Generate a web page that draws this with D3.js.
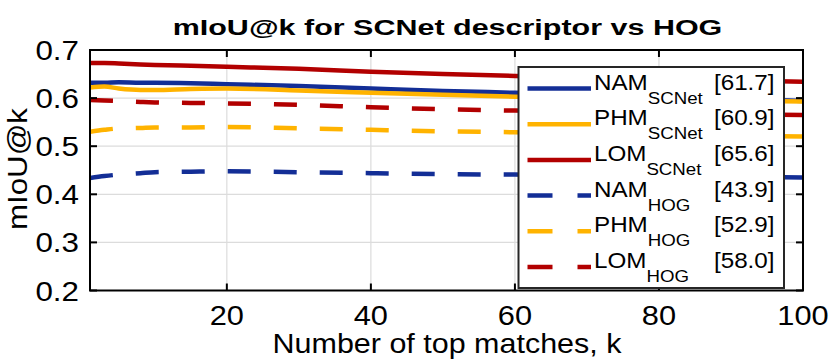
<!DOCTYPE html>
<html>
<head>
<meta charset="utf-8">
<script src="https://cdn.jsdelivr.net/npm/d3@7"></script>
<style>
  body { margin: 0; background: #fff; }
  text { font-family: "Liberation Sans", Arial, Helvetica, sans-serif; fill: #000; }
</style>
</head>
<body>
<svg id="chart"></svg>
<script>
// mIoU@k curves, SCNet descriptor vs HOG
const width = 830;
const height = 360;

const kValues = [1, 3, 5, 8, 10, 15, 20, 30, 40, 50, 60, 70, 80, 90, 100];
const namScnet = [0.632, 0.632, 0.633, 0.632, 0.632, 0.631, 0.629, 0.625, 0.620, 0.615, 0.611, 0.607, 0.603, 0.598, 0.594];
const phmScnet = [0.622, 0.624, 0.620, 0.617, 0.617, 0.619, 0.620, 0.616, 0.611, 0.607, 0.603, 0.600, 0.598, 0.595, 0.593];
const lomScnet = [0.673, 0.673, 0.672, 0.670, 0.669, 0.667, 0.665, 0.661, 0.655, 0.650, 0.646, 0.643, 0.640, 0.637, 0.634];
const namHog = [0.434, 0.438, 0.441, 0.444, 0.446, 0.447, 0.448, 0.446, 0.444, 0.442, 0.441, 0.440, 0.438, 0.436, 0.435];
const phmHog = [0.530, 0.534, 0.537, 0.538, 0.539, 0.539, 0.540, 0.537, 0.534, 0.531, 0.529, 0.527, 0.525, 0.522, 0.520];
const lomHog = [0.596, 0.595, 0.594, 0.592, 0.591, 0.590, 0.589, 0.586, 0.581, 0.577, 0.574, 0.571, 0.569, 0.567, 0.565];

const seriesNames = ["NAM", "PHM", "LOM", "NAM", "PHM", "LOM"];
const seriesSubs = ["SCNet", "SCNet", "SCNet", "HOG", "HOG", "HOG"];
const seriesScores = ["[61.7]", "[60.9]", "[65.6]", "[43.9]", "[52.9]", "[58.0]"];
const xTicks = [20, 40, 60, 80, 100];
const yTicks = [0.2, 0.3, 0.4, 0.5, 0.6, 0.7];

const blue = "#132e96", orange = "#ffb300", red = "#b20000";
const series = [
    { values: namScnet, color: blue, dashed: false },
    { values: phmScnet, color: orange, dashed: false },
    { values: lomScnet, color: red, dashed: false },
    { values: namHog, color: blue, dashed: true },
    { values: phmHog, color: orange, dashed: true },
    { values: lomHog, color: red, dashed: true }
];

const margin = { left: 90, right: 27, top: 50, bottom: 69.5 };
const plotW = width - margin.left - margin.right;
const plotH = height - margin.top - margin.bottom;

const svg = d3.select("#chart")
    .attr("width", width)
    .attr("height", height);

const x = d3.scaleLinear().domain([1, 100]).range([margin.left, margin.left + plotW]);
const y = d3.scaleLinear().domain([0.2, 0.7]).range([margin.top + plotH, margin.top]);

// text drawn slightly wider than normal, like the reference
function addText(parent, px, py, str, size, opts = {}) {
    const g = parent.append("g");
    const t = g.append("text")
        .attr("font-size", size)
        .attr("font-weight", opts.bold ? "bold" : "normal")
        .attr("text-anchor", opts.anchor || "start")
        .text(str);
    let sx = opts.sx || 1.1;
    if (opts.fitWidth) sx = opts.fitWidth / t.node().getComputedTextLength();
    const rot = opts.rotate ? ` rotate(${opts.rotate})` : "";
    g.attr("transform", `translate(${px},${py})${rot} scale(${sx},1)`);
    return t;
}

// grid
const grid = svg.append("g");
grid.selectAll(".gx").data(xTicks.filter(d => d < 100)).enter().append("line")
    .attr("x1", d => x(d)).attr("x2", d => x(d))
    .attr("y1", margin.top).attr("y2", margin.top + plotH)
    .attr("stroke", "#dcdcdc").attr("stroke-width", 1.2);
grid.selectAll(".gy").data(yTicks.filter(d => d > 0.2 && d < 0.7)).enter().append("line")
    .attr("x1", margin.left).attr("x2", margin.left + plotW)
    .attr("y1", d => y(d)).attr("y2", d => y(d))
    .attr("stroke", "#dcdcdc").attr("stroke-width", 1.2);

// lines
svg.append("clipPath").attr("id", "clip").append("rect")
    .attr("x", margin.left).attr("y", margin.top).attr("width", plotW).attr("height", plotH);

const line = d3.line()
    .x((d, i) => x(kValues[i]))
    .y(d => y(d))
    .curve(d3.curveMonotoneX);

svg.append("g").attr("clip-path", "url(#clip)")
    .selectAll("path").data(series).enter().append("path")
    .attr("d", d => line(d.values))
    .attr("fill", "none")
    .attr("stroke", d => d.color)
    .attr("stroke-width", 4.5)
    .attr("stroke-dasharray", d => d.dashed ? "23,23" : null);

// frame and ticks
const frame = svg.append("g");
frame.append("rect")
    .attr("x", margin.left).attr("y", margin.top).attr("width", plotW).attr("height", plotH)
    .attr("fill", "none").attr("stroke", "#000").attr("stroke-width", 2);
xTicks.forEach(d => {
    frame.append("line").attr("x1", x(d)).attr("x2", x(d))
        .attr("y1", margin.top + plotH).attr("y2", margin.top + plotH - 7)
        .attr("stroke", "#000").attr("stroke-width", 2);
    frame.append("line").attr("x1", x(d)).attr("x2", x(d))
        .attr("y1", margin.top).attr("y2", margin.top + 7)
        .attr("stroke", "#000").attr("stroke-width", 2);
    addText(svg, x(d), 325, String(d), 28.5, { anchor: "middle", sx: 1.08 });
});
yTicks.forEach(d => {
    frame.append("line").attr("x1", margin.left).attr("x2", margin.left + 7)
        .attr("y1", y(d)).attr("y2", y(d))
        .attr("stroke", "#000").attr("stroke-width", 2);
    frame.append("line").attr("x1", margin.left + plotW).attr("x2", margin.left + plotW - 7)
        .attr("y1", y(d)).attr("y2", y(d))
        .attr("stroke", "#000").attr("stroke-width", 2);
    addText(svg, 79, y(d) + 10, d.toFixed(1), 28.5, { anchor: "end", sx: 1.1 });
});

// titles
addText(svg, 447.5, 35, "mIoU@k for SCNet descriptor vs HOG", 22.5, { anchor: "middle", bold: true, fitWidth: 550 });
addText(svg, 447, 353, "Number of top matches, k", 28.5, { anchor: "middle", fitWidth: 349 });
addText(svg, 27, 169, "mIoU@k", 28.5, { anchor: "middle", rotate: -90, fitWidth: 122 });

// legend
const legend = svg.append("g");
legend.append("rect")
    .attr("x", 518.5).attr("y", 67).attr("width", 265.5).attr("height", 221)
    .attr("fill", "#fff").attr("stroke", "#262626").attr("stroke-width", 2);
series.forEach((s, i) => {
    const ly = 88.5 + i * 35.7;
    legend.append("line")
        .attr("x1", 527.5).attr("x2", 591)
        .attr("y1", ly).attr("y2", ly)
        .attr("stroke", s.color).attr("stroke-width", 4.5)
        .attr("stroke-dasharray", s.dashed ? "25,25" : null);
    const t = addText(legend, 594, ly + 1, seriesNames[i], 22, { sx: 1.1 });
    t.append("tspan").attr("dy", 14).attr("font-size", 17).text(seriesSubs[i]);
    addText(legend, 774.5, ly + 1, seriesScores[i], 22, { anchor: "end", sx: 1.1 });
});
</script>
</body>
</html>
